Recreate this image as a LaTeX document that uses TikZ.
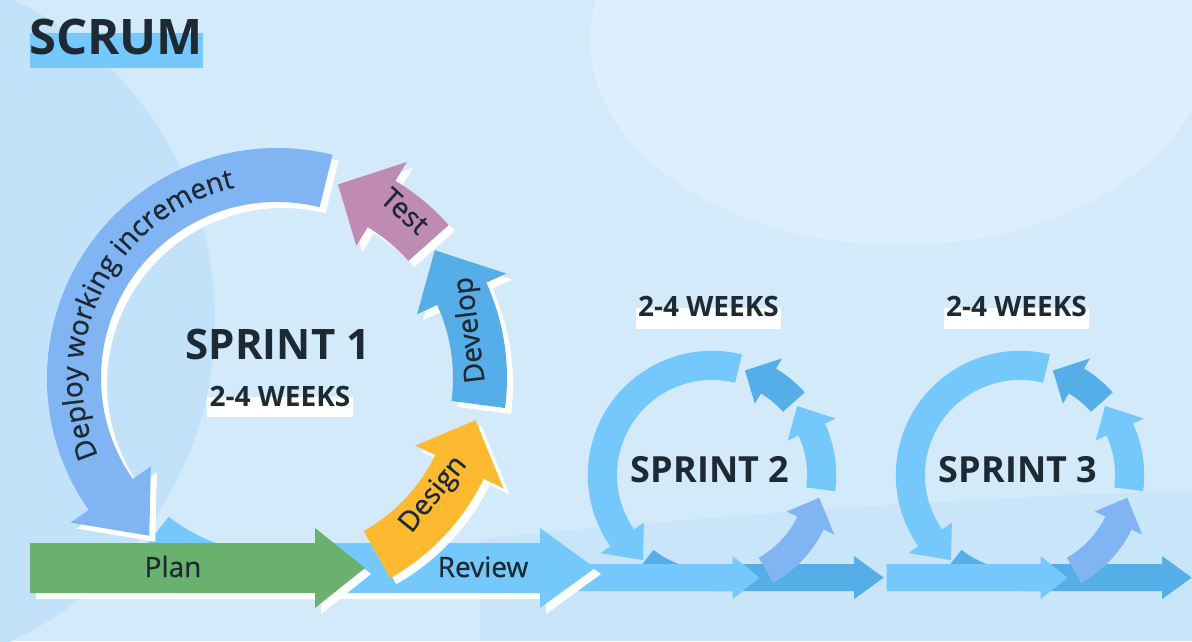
\documentclass[tikz,border=0pt]{standalone}
\usepackage{fontspec}
\setmainfont{Open Sans}
\newfontfamily\phasefont{Open Sans}[FakeBold=0.8]
\usetikzlibrary{decorations.text}
\definecolor{bgblue}{HTML}{D3EAFB}
\definecolor{bgdeep}{HTML}{C2E2FA}
\definecolor{bglight}{HTML}{DDEFFD}
\definecolor{ink}{HTML}{1E2A33}
\definecolor{deploy}{HTML}{80B4F2}
\definecolor{test}{HTML}{C08BB3}
\definecolor{develop}{HTML}{56AEE8}
\definecolor{design}{HTML}{FDB92F}
\definecolor{plan}{HTML}{6AB16D}
\definecolor{review}{HTML}{75C8FC}
\tikzstyle{scrumtitle} = [text=ink, inner sep=0pt, font={\bfseries\fontsize{49}{52}\selectfont}]
\tikzstyle{sprintname} = [text=ink, inner sep=0pt, font={\bfseries\fontsize{42}{46}\selectfont}]
\tikzstyle{smallsprint} = [text=ink, inner sep=0pt, font={\bfseries\fontsize{36}{40}\selectfont}]
\tikzstyle{weekstext} = [text=ink, inner sep=0pt, font={\bfseries\fontsize{28}{30}\selectfont}]
\tikzstyle{phasetext} = [text=ink, inner sep=0pt, font={\phasefont\fontsize{28}{30}\selectfont}]
\tikzstyle{shade} = [white, shift={(6,-6)}]
% ring piece: tail angle, head base angle, tip angle
\newcommand{\ringseg}[3]{(#1:176) arc[start angle=#1, end angle=#2, radius=176] -- (#2:154) -- (#3:203) -- (#2:252) -- (#2:230) arc[start angle=#2, end angle=#1, radius=230] -- cycle}
\newcommand{\baseseg}{(232:176) arc[start angle=232, end angle=266, radius=176] -- (266:230) arc[start angle=266, end angle=232, radius=230] -- cycle}
\newcommand{\planbar}{(-247,-165) -- (38,-165) -- (38,-150) -- (88,-190) -- (38,-230) -- (38,-215) -- (-247,-215) -- cycle}
\newcommand{\reviewbar}{(0,-165) -- (263,-165) -- (263,-150) -- (318,-190) -- (263,-230) -- (263,-215) -- (0,-215) -- cycle}

\begin{document}
\begin{tikzpicture}[x=1pt,y=1pt]
    \useasboundingbox (0,0) rectangle (1192,641);
    \clip (0,0) rectangle (1192,641);
    % background
    \fill[bgblue] (0,0) rectangle (1192,641);
    \fill[bgdeep] (-140,321) circle[radius=355];
    \fill[bglight] (900,601) ellipse[x radius=310, y radius=205];
    \fill[bgdeep!60!bgblue] (480,0) -- (480,102) .. controls (700,125) and (1000,146) .. (1192,150) -- (1192,0) -- cycle;

    % sprints 2 and 3
    \foreach \cx/\nr in {712/2, 1020/3}{
      \begin{scope}[shift={(\cx,166)}, scale=0.54]
        \begin{scope}
          \clip (-300,-200) rectangle (300,0);
          \fill[develop] \baseseg;
        \end{scope}
        \fill[develop] \reviewbar;
        \fill[review] \planbar;
        \fill[review] \ringseg{76}{215}{231};
        \fill[develop] \ringseg{41.7}{59}{72.5};
        \fill[review] \ringseg{-7.5}{24.5}{39};
        \fill[deploy] \ringseg{-60.5}{-26}{-12};
      \end{scope}
      \fill[white] (\cx-76,312) rectangle (\cx+69,333);
      \node[weekstext, anchor=base](weeks\nr) at (\cx-3.5,324){2-4 WEEKS};
      \node[smallsprint, anchor=base](sprint\nr) at (\cx-2,159){SPRINT \nr};
    }

    % sprint 1
    \begin{scope}[shift={(277,263)}]
      \begin{scope}
        \clip (-300,-200) rectangle (300,0);
        \fill[review] \baseseg;
      \end{scope}
      \fill[shade] \reviewbar;
      \fill[review] \reviewbar;
      \fill[shade] \planbar;
      \fill[plan] \planbar;
      \fill[shade] \ringseg{76}{215}{231};
      \fill[deploy] \ringseg{76}{215}{231};
      \fill[shade] \ringseg{41.7}{59}{72.5};
      \fill[test] \ringseg{41.7}{59}{72.5};
      \fill[shade] \ringseg{-7.5}{24.5}{39};
      \fill[develop] \ringseg{-7.5}{24.5}{39};
      \fill[shade] \ringseg{-60.5}{-26}{-12};
      \fill[design] \ringseg{-60.5}{-26}{-12};
      \path[decorate, decoration={text along path, text align=center,
        text={|\phasefont\fontsize{28}{30}\selectfont\color{ink}|Deploy working increment}}]
        (214:195) arc[start angle=214, end angle=92, radius=195];
    \end{scope}

    % texts
    \fill[review] (30,573) rectangle (203,608);
    \node[scrumtitle, anchor=base west](scrum) at (29,586){SCRUM};
    \node[sprintname, anchor=base](sprint1) at (278,281){SPRINT 1};
    \fill[white] (207,224) rectangle (353,244);
    \node[weekstext, anchor=base](weeks1) at (280,235){2-4 WEEKS};
    \node[phasetext, anchor=base](plan1) at (173,64){Plan};
    \node[phasetext, anchor=base](review1) at (483,64){Review};
    \node[phasetext, rotate=-42](test1) at (405,430){Test};
    \node[phasetext, rotate=97](develop1) at (471,311){Develop};
    \node[phasetext, rotate=51](design1) at (434,146){Design};
\end{tikzpicture}
\end{document}
